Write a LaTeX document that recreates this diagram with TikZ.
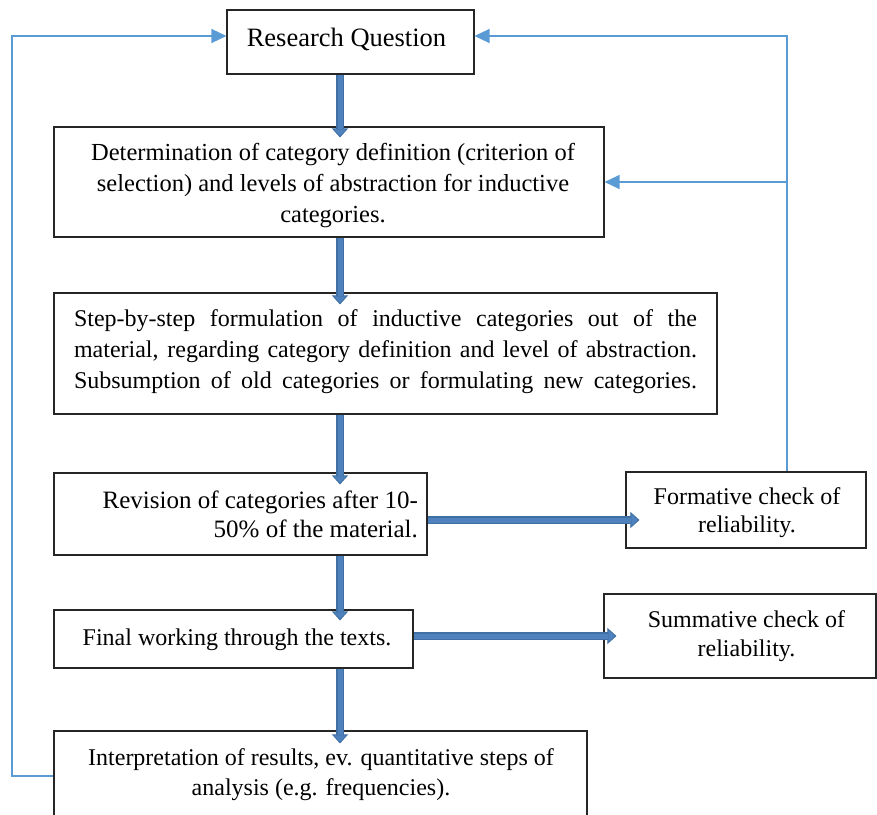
\documentclass[tikz,border=0pt]{standalone}
\usepackage{fontspec}
\setmainfont{Liberation Serif}
\usetikzlibrary{arrows.meta,calc}
\definecolor{fatdark}{HTML}{3F6FA3}
\definecolor{fatmid}{HTML}{4F81BD}
\definecolor{thinblue}{HTML}{5B9BD5}
\begin{document}
\begin{tikzpicture}[x=1pt,y=-1pt,
  box/.style={draw=black!85,line width=1.1pt,fill=white,rectangle,inner sep=0pt},
  txt/.style={inner sep=0pt,font=\fontsize{24}{31}\selectfont,align=center},
  fatarrow/.style={draw=fatdark,line width=7.5pt,
    -{Triangle[length=9pt,width=16pt,line width=0.8pt,fill=fatmid]},
    postaction={draw=fatmid,line width=5pt,arrows=-,shorten >=8pt}},
  thinarrow/.style={draw=thinblue,line width=1.3pt,
    -{Triangle[length=15pt,width=14pt]}}]
\useasboundingbox (0,0) rectangle (877,814);
\clip (0,0) rectangle (877,814);
% boxes
\node[box,minimum width=247,minimum height=64] (rq) at (350.5,42) {};
\node[box,minimum width=550,minimum height=110] (det) at (329,182) {};
\node[box,minimum width=663,minimum height=121] (step) at (385.5,353.5) {};
\node[box,minimum width=373,minimum height=82] (rev) at (240.5,514) {};
\node[box,minimum width=240,minimum height=76] (form) at (746,510) {};
\node[box,minimum width=359,minimum height=58] (final) at (233.5,639) {};
\node[box,minimum width=272,minimum height=84] (summ) at (740,636) {};
\node[box,minimum width=533,minimum height=90] (interp) at (320.5,776) {};
% texts
\node[txt,font=\fontsize{26.5}{31}\selectfont,text height=19pt,text depth=6.5pt]
  (rqt) at (346.5,40) {Research Question};
\node[txt,font=\fontsize{24.5}{31}\selectfont] (dett) at (333,186)
  {Determination of category definition (criterion of\\selection) and levels of abstraction for inductive\\categories.};
\node[txt,align=left,font=\fontsize{24}{31}\selectfont] (stept) at (385.5,352)
  {\makebox[623pt][s]{Step-by-step formulation of inductive categories out of the}\\
   \makebox[623pt][s]{material, regarding category definition and level of abstraction.}\\
   \makebox[623pt][s]{Subsumption of old categories or formulating new categories.}};
\node[txt,align=right,anchor=east,font=\fontsize{25}{29}\selectfont] (revt) at (418,514.5)
  {Revision of categories after 10-\\50\% of the material.};
\node[txt,font=\fontsize{24}{28}\selectfont] (formt) at (747,513)
  {Formative check of\\reliability.};
\node[txt,text height=17pt,text depth=6pt] (finalt) at (237,640) {Final working through the texts.};
\node[txt,font=\fontsize{24}{29}\selectfont] (summt) at (746.5,636.5)
  {Summative check of\\reliability.};
\node[txt,font=\fontsize{24}{29.5}\selectfont] (interpt) at (321,774.5)
  {Interpretation of results, ev. quantitative steps of\\analysis (e.g. frequencies).};
% reference coordinates
\coordinate (ax) at (340,0);
\coordinate (h1) at (0,520);
\coordinate (h2) at (0,636);
\coordinate (tr) at (787,36);
\coordinate (tl) at (12,36);
% thick arrows
\draw[fatarrow] (rq.south -| ax) -- ($(det.north -| ax)+(0,11)$);
\draw[fatarrow] (det.south -| ax) -- ($(step.north -| ax)+(0,12)$);
\draw[fatarrow] (step.south -| ax) -- ($(rev.north -| ax)+(0,12)$);
\draw[fatarrow] (rev.south -| ax) -- ($(final.north -| ax)+(0,11)$);
\draw[fatarrow] (final.south -| ax) -- ($(interp.north -| ax)+(0,13)$);
\draw[fatarrow] (rev.east |- h1) -- ($(form.west |- h1)+(14,0)$);
\draw[fatarrow] (final.east |- h2) -- ($(summ.west |- h2)+(13,0)$);
% thin feedback connectors
\draw[thinarrow] (form.north -| tr) -- (tr) -- (tr -| rq.east);
\draw[thinarrow] (tr |- det.east) -- (det.east);
\draw[thinarrow] (interp.west) -- (interp.west -| tl) -- (tl) -- (tl -| rq.west);
\end{tikzpicture}
\end{document}
